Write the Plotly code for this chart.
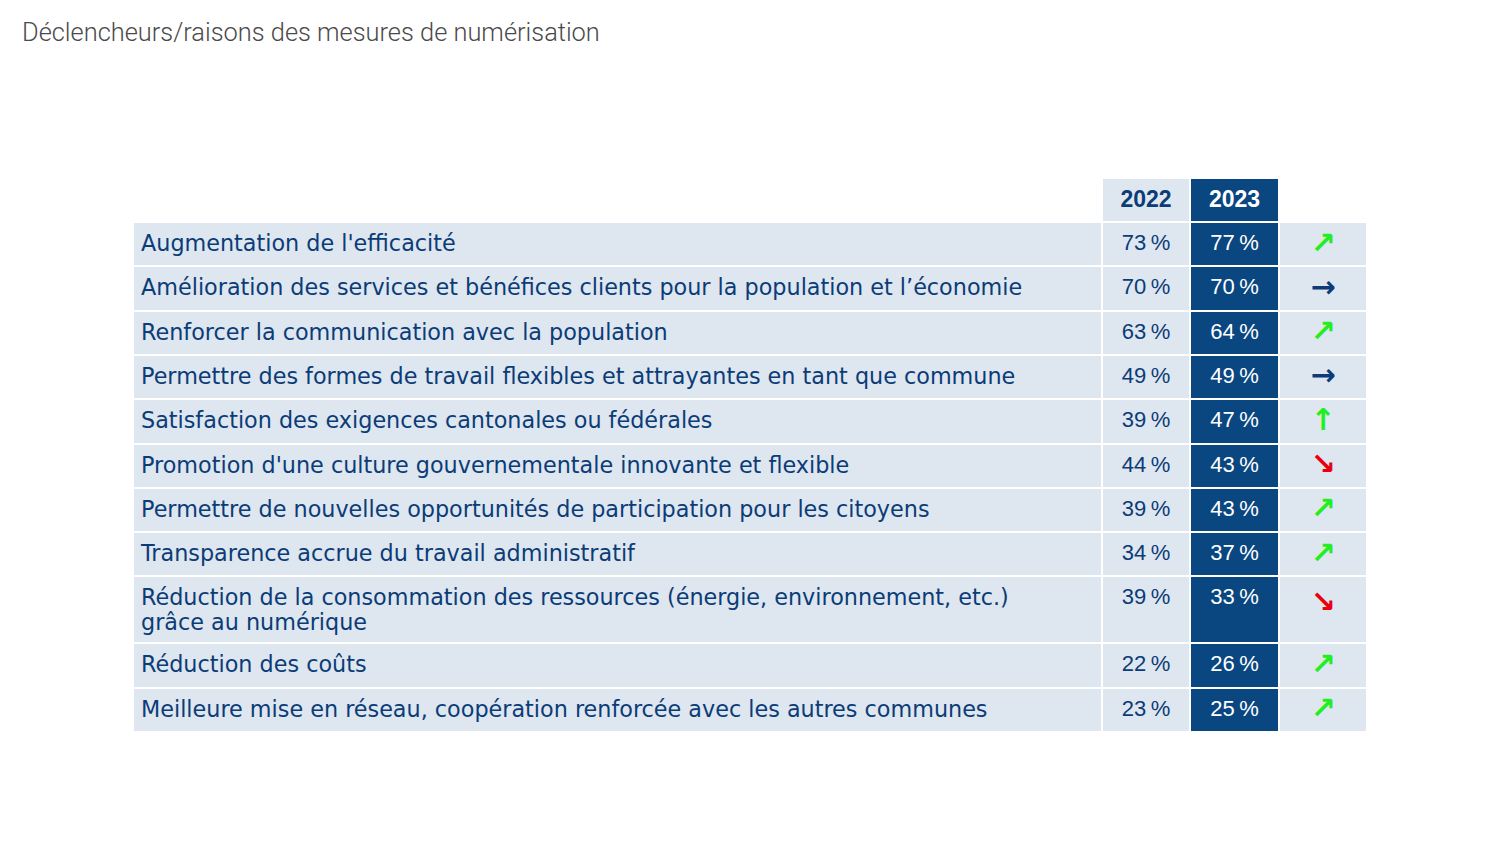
import plotly.graph_objects as go

title = "Déclencheurs/raisons des mesures de numérisation"
categories = [
    "Augmentation de l'efficacité",
    "Amélioration des services et bénéfices clients pour la population et l’économie",
    "Renforcer la communication avec la population",
    "Permettre des formes de travail flexibles et attrayantes en tant que commune",
    "Satisfaction des exigences cantonales ou fédérales",
    "Promotion d'une culture gouvernementale innovante et flexible",
    "Permettre de nouvelles opportunités de participation pour les citoyens",
    "Transparence accrue du travail administratif",
    "Réduction de la consommation des ressources (énergie, environnement, etc.)<br>grâce au numérique",
    "Réduction des coûts",
    "Meilleure mise en réseau, coopération renforcée avec les autres communes",
]
years = ["2022", "2023"]
values_2022 = [73, 70, 63, 49, 39, 44, 39, 34, 39, 22, 23]
values_2023 = [77, 70, 64, 49, 47, 43, 43, 37, 33, 26, 25]
trend = ["↗", "→", "↗", "→", "↑", "↘", "↗", "↗", "↘", "↗", "↗"]

NAVY = "#0b3c78"
DARK = "#0a4680"
LIGHT = "#dee6ef"
GREEN = "#22ee22"
RED = "#e8000e"

trend_colors = []
for t in trend:
    if t == "→":
        trend_colors.append(NAVY)
    elif t == "↘":
        trend_colors.append(RED)
    else:
        trend_colors.append(GREEN)

LABEL_SIZE = 22.3
tall = ["<br>" in c for c in categories]  # rows whose label spans two lines
fmt = lambda v: f"{v}\u2009%"
shift = lambda s, px=4: f'<span\nstyle="baseline-shift:-{px}px">{s}</span>'
# labels: the cell font size sets line spacing; the span sets the visible size
label_cell = lambda s: f'<span\nstyle="baseline-shift:-4px;font-size:{LABEL_SIZE}px">{s}</span>'
num_cell = lambda v, t: shift(fmt(v), 17 if t else 4)
arrow_cell = lambda a, t: shift(a, 13) if t else a
n = len(categories)

OFF = 8  # page body margin compensation
fig = go.Figure(go.Table(
    domain=dict(x=[(133 - OFF) / 1500, (1368 - OFF) / 1500], y=[0.0, 1 - (178 - OFF) / 844]),
    columnwidth=[969, 88, 89, 88],
    header=dict(
        values=["", "<b>" + years[0] + "</b>", "<b>" + years[1] + "</b>", ""],
        fill=dict(color=["white", LIGHT, DARK, "white"]),
        line=dict(color="white", width=2),
        font=dict(family="Liberation Sans", size=23, color=[NAVY, NAVY, "white", NAVY]),
        align="center",
        height=44,
    ),
    cells=dict(
        values=[[label_cell(c) for c in categories],
                [num_cell(v, t) for v, t in zip(values_2022, tall)],
                [num_cell(v, t) for v, t in zip(values_2023, tall)],
                [arrow_cell(a, t) for a, t in zip(trend, tall)]],
        fill=dict(color=[LIGHT, LIGHT, DARK, LIGHT]),
        line=dict(color="white", width=2),
        font=dict(family=["DejaVu Sans", "Liberation Sans", "Liberation Sans", "DejaVu Sans"],
                  size=[19.3, 22, 22, 30],
                  weight=[400, 400, 400, 700],
                  color=[[NAVY]*n, [NAVY]*n, ["white"]*n, trend_colors]),
        align=["left", "center", "center", "center"],
        height=44.3,
    ),
))

fig.update_layout(
    width=1500, height=844,
    margin=dict(l=0, r=0, t=0, b=0),
    paper_bgcolor="white",
    title=dict(text=title, x=(22 - OFF) / 1500, xanchor="left", y=1 - (32 - OFF) / 844, yanchor="middle",
               font=dict(family="Roboto", weight=300, size=25.4, color="#4a4a4a")),
)

fig.write_html("out.html")
